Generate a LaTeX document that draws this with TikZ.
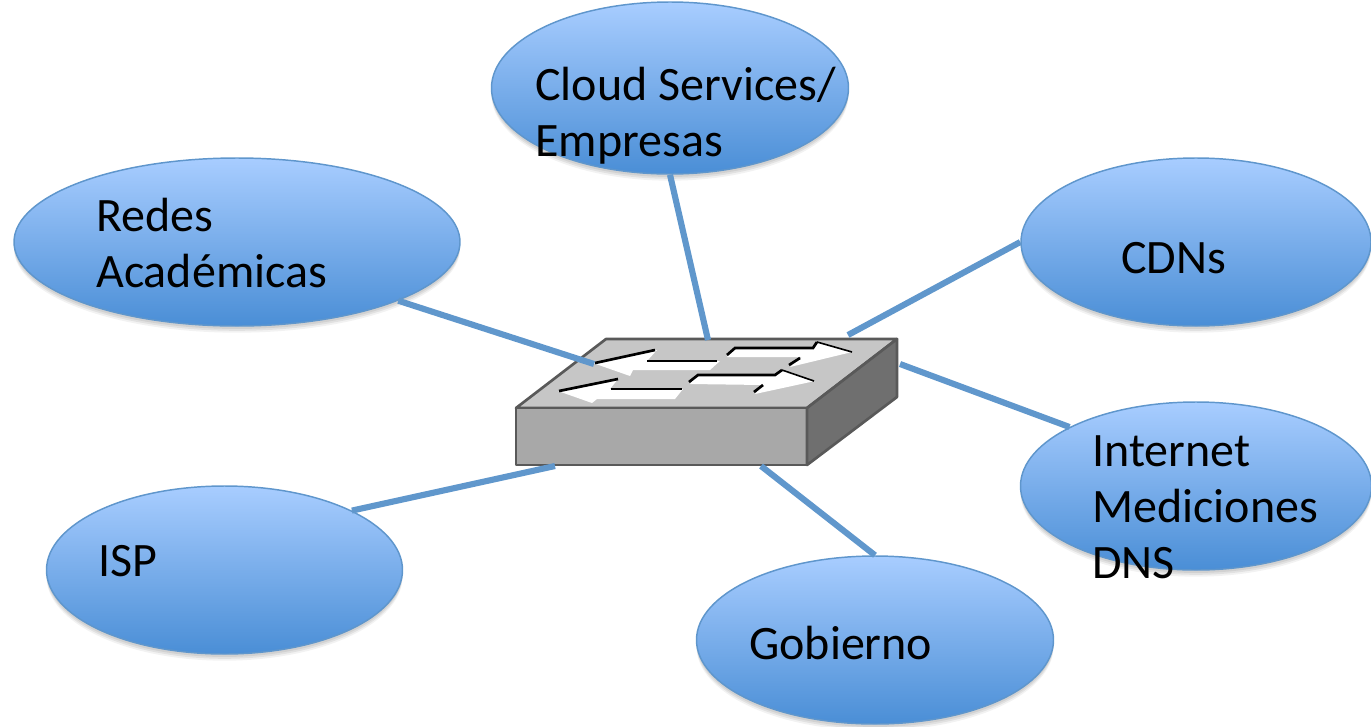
\documentclass[tikz,border=0pt]{standalone}
\usepackage{fontspec}
\setmainfont{Carlito}
\usetikzlibrary{shapes.geometric}
\definecolor{linkblue}{HTML}{6097CC}
\definecolor{bubbleedge}{HTML}{5F96CC}
\definecolor{bubbletop}{HTML}{A8CDFF}
\definecolor{bubblebot}{HTML}{4A8ED6}
\definecolor{swtop}{HTML}{C6C6C6}
\definecolor{swfront}{HTML}{A8A8A8}
\definecolor{swside}{HTML}{6F6F6F}
\definecolor{swedge}{HTML}{595959}
\tikzset{
  bubble/.style={ellipse,inner sep=0pt,draw=bubbleedge,line width=1.1pt,
    top color=bubbletop,bottom color=bubblebot,
    preaction={fill=black,opacity=.07,transform canvas={yshift=-2.2pt}},
    preaction={fill=black,opacity=.07,transform canvas={yshift=-3.6pt}},
    preaction={fill=black,opacity=.05,transform canvas={yshift=-5pt}}},
  link/.style={linkblue,line width=4.6pt},
  label/.style={inner sep=0pt,anchor=base west,align=left,font=\fontsize{36}{42}\selectfont},
  swface/.style={draw=swedge,line width=2pt,line join=round},
  swarrow/.style={fill=white},
  swmark/.style={black,line width=1.2pt},
  swmarkb/.style={black,line width=2pt}
}
\begin{document}
\begin{tikzpicture}[x=0.75pt,y=-0.75pt]
\useasboundingbox (0,0) rectangle (1371,726);
% bubbles
\node[bubble,minimum width=267.75pt,minimum height=129pt] (cloud) at (670,88) {};
\node[bubble,minimum width=334.5pt,minimum height=126pt] (redes) at (237,242) {};
\node[bubble,minimum width=262.5pt,minimum height=126pt] (cdn) at (1196,242) {};
\node[bubble,minimum width=263.25pt,minimum height=126pt] (inet) at (1196,486) {};
\node[bubble,minimum width=267pt,minimum height=126pt] (isp) at (224.5,570) {};
\node[bubble,minimum width=267.75pt,minimum height=126pt] (gob) at (875,640) {};
% switch
\filldraw[swface,fill=swtop] (516,408) -- (606,339) -- (897,339) -- (807,408) -- cycle;
\filldraw[swface,fill=swfront] (516,408) rectangle (807,465);
\filldraw[swface,fill=swside] (807,408) -- (897,339) -- (897,397) -- (807,465) -- cycle;
% switch arrows
\fill[swarrow] (593,363) -- (657,350) -- (647,361) -- (720,361) -- (710,370) -- (633,370) -- (630,376) -- cycle;
\draw[swmarkb] (595,363) -- (655,350);
\draw[swmark] (647,361) -- (717,361);
\fill[swarrow] (558,391) -- (618,379) -- (610,389) -- (683,389) -- (675,399) -- (597,399) -- (592,403) -- cycle;
\draw[swmarkb] (559,391) -- (618,379);
\draw[swmark] (611,389) -- (682,389);
\fill[swarrow] (727,357) -- (735,347) -- (813,347) -- (817,342) -- (852,352) -- (790,367) -- (802,357) -- cycle;
\draw[swmarkb] (727,355) -- (735,348) -- (813,348) -- (817,342);
\draw[swmark] (817,342) -- (852,352);
\draw[swmarkb] (789,365) -- (800,358);
\fill[swarrow] (690,384) -- (698,374) -- (775,374) -- (782,370) -- (815,381) -- (755,394) -- (763,385) -- cycle;
\draw[swmarkb] (689,382) -- (698,375) -- (775,375) -- (782,370);
\draw[swmark] (782,370) -- (814,381);
\draw[swmarkb] (754,392) -- (763,385);
% free ends at the switch
\coordinate (swn) at (708,340);
\coordinate (swnw) at (594,364);
\coordinate (swne) at (848,335);
\coordinate (swe) at (900,364);
\coordinate (swsw) at (555,466);
\coordinate (sws) at (761,466);
% connectors
\draw[link] (cloud.south) -- (swn);
\draw[link] (redes.-20.5) -- (swnw);
\draw[link] (cdn.west) -- (swne);
\draw[link] (inet.155) -- (swe);
\draw[link] (isp.25) -- (swsw);
\draw[link] (gob.north) -- (sws);
% labels
\node[label] (tcloud) at (535,156) {Cloud Services/\\Empresas};
\node[label] (tredes) at (96,287) {Redes\\Académicas};
\node[label] (tcdn) at (1121,273) {CDNs};
\node[label] (tinet) at (1092,578) {Internet\\Mediciones\\DNS};
\node[label] (tisp) at (98,576) {ISP};
\node[label] (tgob) at (749,659) {Gobierno};
\end{tikzpicture}
\end{document}
